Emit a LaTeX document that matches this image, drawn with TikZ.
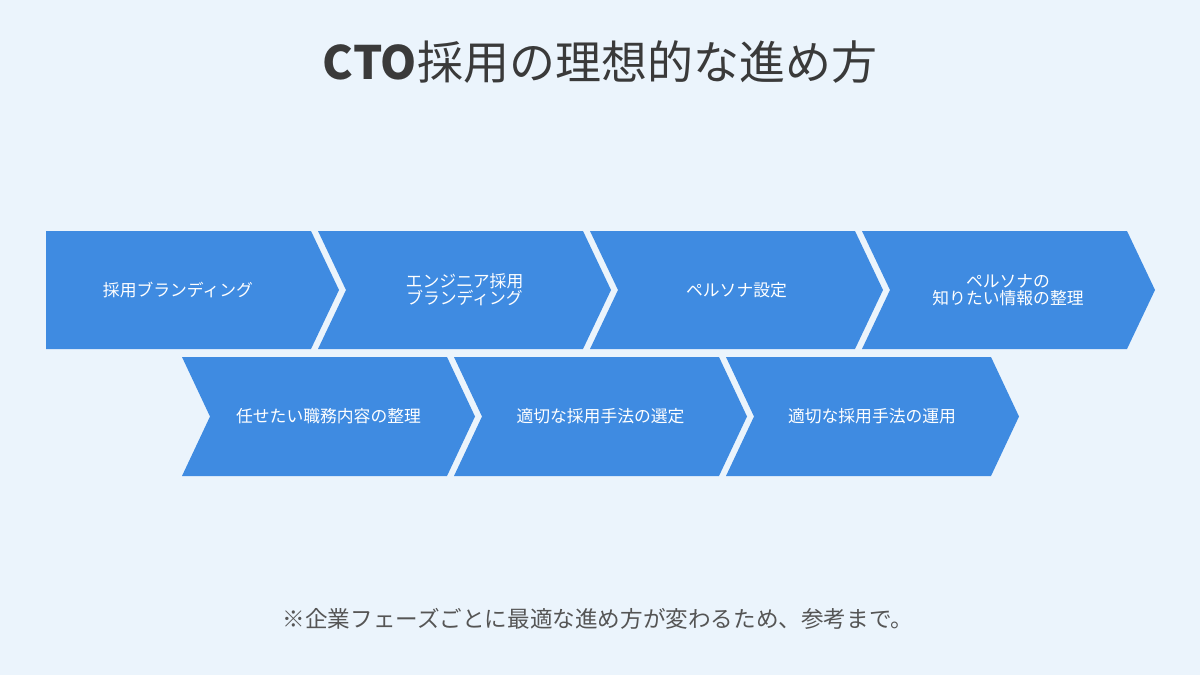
\documentclass[tikz,border=0pt]{standalone}
\usepackage{fontspec}
\setmainfont{Noto Sans CJK JP}
\definecolor{bgc}{HTML}{EBF4FC}
\definecolor{chev}{HTML}{3F8BE1}
\definecolor{titlec}{HTML}{3A3A3A}
\definecolor{notec}{HTML}{555555}
\tikzset{
  chevfill/.style={fill=chev, draw=none},
  lbl/.style={text=white, font=\fontsize{16.8}{17}\selectfont, align=center, inner sep=0pt},
}
\begin{document}
\begin{tikzpicture}[x=1pt,y=-1pt]
\fill[bgc] (0,0) rectangle (1200,675);
\useasboundingbox (0,0) rectangle (1200,675);

% title
\node[text=titlec, font=\fontsize{46}{50}\selectfont, inner sep=0pt] (title) at (600,62) {\textbf{CTO}採用の理想的な進め方};

% row 1
\fill[chevfill] (46,231) -- ++(265,0) -- ++(28,59) -- ++(-28,59) -- ++(-265,0) -- cycle;
\foreach \x in {318,590,862}{
  \fill[chevfill] (\x,231) -- ++(265,0) -- ++(28,59) -- ++(-28,59) -- ++(-265,0) -- ++(28,-59) -- cycle;
}
% row 2
\foreach \x in {182,454,726}{
  \fill[chevfill] (\x,357) -- ++(265,0) -- ++(28,59.5) -- ++(-28,59.5) -- ++(-265,0) -- ++(28,-59.5) -- cycle;
}

\node[lbl] (s1) at (178,290) {採用ブランディング};
\node[lbl] (s2) at (464.5,290) {エンジニア採用\\ブランディング};
\node[lbl] (s3) at (736.5,290) {ペルソナ設定};
\node[lbl] (s4) at (1008,290) {ペルソナの\\知りたい情報の整理};
\node[lbl] (s5) at (328.5,416.5) {任せたい職務内容の整理};
\node[lbl] (s6) at (600.5,416.5) {適切な採用手法の選定};
\node[lbl] (s7) at (872,416.5) {適切な採用手法の運用};

% footnote
\node[text=notec, font=\fontsize{22.6}{24}\selectfont, inner sep=0pt] (note) at (598,619) {※企業フェーズごとに最適な進め方が変わるため、参考まで。};
\end{tikzpicture}
\end{document}
